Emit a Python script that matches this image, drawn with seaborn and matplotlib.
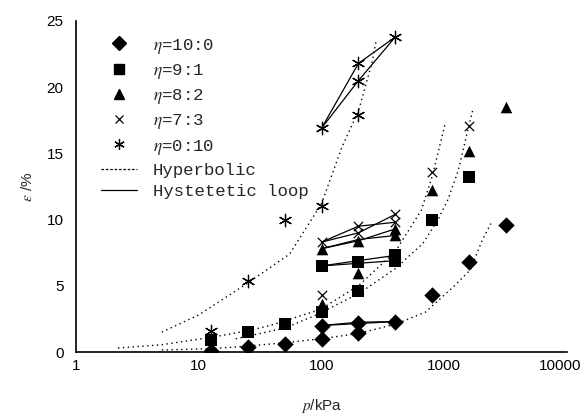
import numpy as np
import pandas as pd
import matplotlib
matplotlib.use("Agg")
import matplotlib.pyplot as plt
import matplotlib.transforms as mtransforms
from matplotlib.lines import Line2D
import seaborn as sns

# ── data (p in kPa, strain in %) ─────────────────────────────────
dia_p = [12.5, 25, 50, 100, 200, 400, 200, 100, 800, 1600, 3200]
dia_e = [0.1, 0.4, 0.6, 1.0, 1.4, 2.3, 2.2, 2.0, 4.3, 6.8, 9.6]

sq_p = [12.5, 25, 50, 100, 200, 400, 400, 200, 100, 800, 1600]
sq_e = [0.9, 1.5, 2.1, 3.0, 4.6, 7.3, 6.9, 6.8, 6.5, 10.0, 13.2]

tri_p = [100, 200, 400, 400, 200, 100, 800, 1600, 3200]
tri_e = [3.6, 6.0, 9.3, 8.8, 8.4, 7.8, 12.2, 15.2, 18.5]

cr_p = [100, 400, 400, 200, 200, 100, 800, 1600]
cr_e = [4.3, 10.4, 9.8, 9.5, 9.0, 8.3, 13.6, 17.1]

ast_p = [12.5, 25, 50, 100, 200, 400, 200, 200, 100]
ast_e = [1.6, 5.4, 10.0, 11.0, 17.9, 23.8, 21.8, 20.5, 16.9]

# hysteretic loops (two branches each, 100 -> 200 -> 400 kPa)
loop_p = [100, 200, 400]
loop_dia = [[2.0, 2.15, 2.3], [2.0, 2.25, 2.3]]
loop_sq = [[6.5, 6.9, 7.3], [6.5, 6.7, 6.9]]
loop_tri = [[7.8, 8.4, 9.3], [7.8, 8.5, 8.8]]
loop_cr = [[8.3, 9.5, 9.8], [8.3, 9.0, 10.4]]
loop_ast = [[16.9, 20.5, 23.8], [16.9, 21.8, 23.8]]

# hyperbolic fits (dotted)
hyp_ast_p = [5, 10, 25, 55, 100, 147, 200, 257, 280]
hyp_ast_e = [1.5, 2.8, 5.2, 7.4, 11.2, 15.5, 18.2, 21.8, 23.6]
hyp_a_p = [2.2, 5, 12.5, 25, 38, 97, 200, 400, 650, 800, 1014]
hyp_a_e = [0.3, 0.55, 1.1, 1.6, 2.0, 3.2, 5.0, 7.6, 10.7, 13.3, 17.2]
hyp_b_p = [20, 50, 91, 200, 400, 670, 890, 1070, 1300, 1560, 1715]
hyp_b_e = [1.0, 1.8, 2.8, 4.4, 6.3, 8.2, 10.0, 11.5, 13.7, 16.8, 18.35]
hyp_dia_p = [5, 12.5, 25, 50, 100, 200, 400, 700, 1180, 1630, 2050, 2400]
hyp_dia_e = [0.15, 0.25, 0.45, 0.7, 1.0, 1.4, 2.1, 3.0, 4.9, 6.2, 8.5, 9.7]

x_ticks = [1, 10, 100, 1000, 10000]
y_ticks = [0, 5, 10, 15, 20, 25]

# ── style ─────────────────────────────────────────
sns.set_style("white")
plt.rcParams["font.family"] = ["Liberation Sans", "DejaVu Sans"]
plt.rcParams["mathtext.fontset"] = "stix"

fig = plt.figure(figsize=(5.84, 4.19), dpi=100)
ax = fig.add_axes([76 / 584, 1 - 352 / 419, 491 / 584, 331 / 419])

dot_style = (0, (1, 2.5))
for hp, he in [(hyp_ast_p, hyp_ast_e), (hyp_a_p, hyp_a_e),
               (hyp_b_p, hyp_b_e), (hyp_dia_p, hyp_dia_e)]:
    sns.lineplot(x=hp, y=he, sort=False, estimator=None, color="black",
                 linewidth=1.0, linestyle=dot_style, ax=ax)

for branches in [loop_dia, loop_sq, loop_tri, loop_cr, loop_ast]:
    for br in branches:
        sns.lineplot(x=loop_p, y=br, sort=False, estimator=None,
                     color="black", linewidth=0.9, ax=ax)

asterisk = (6, 2, 0)
series = [
    (dia_p, dia_e, "D", 70, r"$\eta$=10:0"),
    (sq_p, sq_e, "s", 65, r"$\eta$=9:1"),
    (tri_p, tri_e, "^", 70, r"$\eta$=8:2"),
    (cr_p, cr_e, "x", 45, r"$\eta$=7:3"),
    (ast_p, ast_e, asterisk, 80, r"$\eta$=0:10"),
]
handles = []
for xp, ye, mk, sz, lab in series:
    if mk in ("x", asterisk):
        sns.scatterplot(x=xp, y=ye, marker=mk, s=sz, color="black",
                        linewidth=0.9, ax=ax, zorder=3)
        h = Line2D([], [], linestyle="none", marker=mk, color="black",
                   markersize=np.sqrt(sz) * 0.85, markeredgewidth=0.9)
    else:
        sns.scatterplot(x=xp, y=ye, marker=mk, s=sz, color="black",
                        edgecolor="black", linewidth=0, ax=ax, zorder=3)
        h = Line2D([], [], linestyle="none", marker=mk, color="black",
                   markersize=np.sqrt(sz) * 0.85)
    handles.append((h, lab))

handles.append((Line2D([], [], color="black", linewidth=0.9,
                       linestyle=(0, (2, 1.5))), "Hyperbolic"))
handles.append((Line2D([], [], color="black", linewidth=0.9), "Hystetetic loop"))

# ── axes ──────────────────────────────────────────
ax.set_xscale("log")
ax.set_xlim(1, 10000)
ax.set_ylim(0, 25)
ax.set_xticks(x_ticks)
ax.set_xticklabels([str(t) for t in x_ticks])
ax.set_yticks(y_ticks)
ax.minorticks_off()
ax.tick_params(axis="both", direction="in", length=7, width=1,
               labelsize=11, colors="black")
ax.tick_params(axis="x", pad=5)
ax.tick_params(axis="y", pad=9)
for s in ["top", "right"]:
    ax.spines[s].set_visible(False)
for s in ["left", "bottom"]:
    ax.spines[s].set_color("black")
    ax.spines[s].set_linewidth(1.2)

# last x label sits a bit left of its tick, as in the source
last = ax.get_xticklabels()[-1]
last.set_transform(last.get_transform() +
                   mtransforms.ScaledTranslation(-7 / 100, 0, fig.dpi_scale_trans))

ax.set_xlabel(r"$p$/kPa", fontsize=11, labelpad=17)
ax.set_ylabel(r"$\varepsilon$ /%", fontsize=11, labelpad=8)

leg = ax.legend([h for h, _ in handles], [l for _, l in handles],
                loc="upper left", bbox_to_anchor=(0.05, 0.953),
                frameon=False, borderaxespad=0, borderpad=0,
                handlelength=2.1, handletextpad=0.9, labelspacing=0.36,
                prop={"family": ["Liberation Mono", "DejaVu Sans Mono"],
                      "size": 12.5})

fig.savefig("out.png", dpi=100, facecolor="white")
